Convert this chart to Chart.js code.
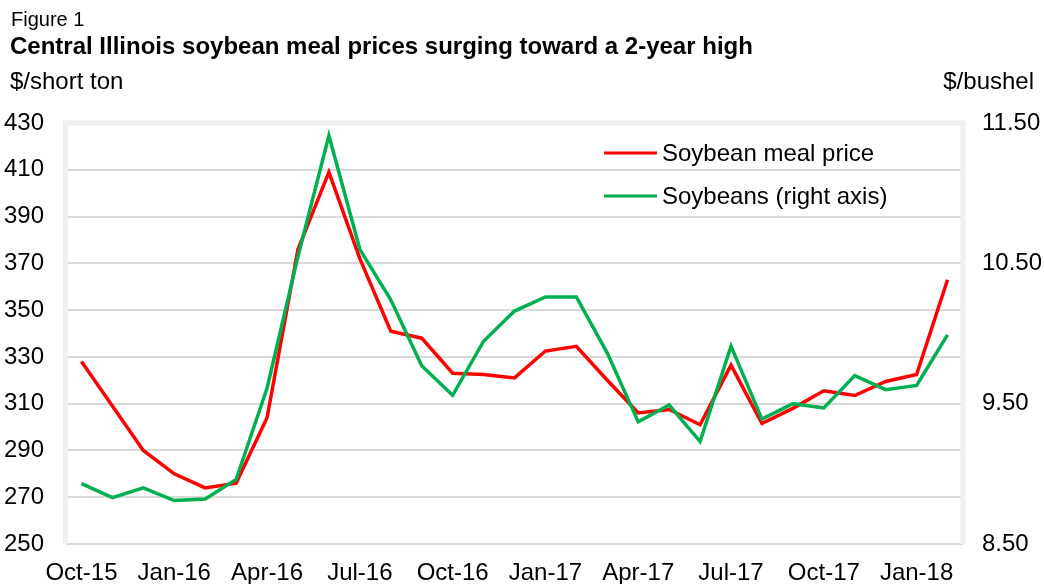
<!DOCTYPE html>
<html>
<head>
<meta charset="utf-8">
<script src="https://cdn.jsdelivr.net/npm/chart.js@4.4.0/dist/chart.umd.min.js"></script>
<style>
  html, body { margin: 0; padding: 0; background: #fff; }
  #wrap { position: relative; width: 1044px; height: 584px; }
</style>
</head>
<body>
<div id="wrap"><canvas id="chart" width="1044" height="584"></canvas></div>
<script>
// monthly, Oct-15 .. Feb-18
var months = ["Oct-15", "Nov-15", "Dec-15", "Jan-16", "Feb-16", "Mar-16", "Apr-16", "May-16", "Jun-16",
  "Jul-16", "Aug-16", "Sep-16", "Oct-16", "Nov-16", "Dec-16", "Jan-17", "Feb-17", "Mar-17", "Apr-17",
  "May-17", "Jun-17", "Jul-17", "Aug-17", "Sep-17", "Oct-17", "Nov-17", "Dec-17", "Jan-18", "Feb-18"];

// $/short ton
var mealPrice = [328, 309, 290, 280, 274, 276, 304, 376, 409, 372, 341, 338, 323, 322.5, 321, 332.5,
  334.5, 320, 306, 307.5, 301, 326.5, 301.5, 308, 315.5, 313.5, 319.5, 322.5, 363];

// $/bushel (right axis)
var soybeans = [8.93, 8.83, 8.90, 8.81, 8.82, 8.96, 9.61, 10.55, 11.41, 10.60, 10.24, 9.77, 9.56, 9.945,
  10.16, 10.26, 10.26, 9.86, 9.37, 9.49, 9.23, 9.91, 9.39, 9.50, 9.47, 9.70, 9.60, 9.63, 9.99];

var seriesNames = ["Soybean meal price", "Soybeans (right axis)"];
var seriesColors = ["#ff0000", "#00b050"];

var FONT = "'Liberation Sans', Arial, sans-serif";

// header text + light frame round the plot + in-plot legend
var decor = {
  id: "decor",
  beforeDatasetsDraw: function (chart) {
    var a = chart.chartArea, ctx = chart.ctx;
    ctx.save();
    ctx.strokeStyle = "#f0f0f0";
    ctx.lineWidth = 5;
    ctx.beginPath();
    ctx.moveTo(a.left - 0.5, a.bottom);
    ctx.lineTo(a.left - 0.5, a.top);
    ctx.lineTo(a.right, a.top);
    ctx.lineTo(a.right, a.bottom);
    ctx.stroke();
    ctx.restore();
  },
  afterDraw: function (chart) {
    var ctx = chart.ctx;
    ctx.save();
    ctx.fillStyle = "#000";
    ctx.textBaseline = "alphabetic";
    ctx.textAlign = "left";
    ctx.font = "20px " + FONT;
    ctx.fillText("Figure 1", 11, 26);
    ctx.font = "bold 24px " + FONT;
    ctx.fillText("Central Illinois soybean meal prices surging toward a 2-year high", 10, 54);
    ctx.font = "24px " + FONT;
    ctx.fillText("$/short ton", 10, 89);
    ctx.textAlign = "right";
    ctx.fillText("$/bushel", 1034, 89);

    // legend
    ctx.textAlign = "left";
    ctx.textBaseline = "middle";
    var ly = [153, 196];
    for (var i = 0; i < seriesNames.length; i++) {
      ctx.strokeStyle = seriesColors[i];
      ctx.lineWidth = 3;
      ctx.beginPath();
      ctx.moveTo(604, ly[i]);
      ctx.lineTo(657, ly[i]);
      ctx.stroke();
      ctx.fillText(seriesNames[i], 662, ly[i] + 1);
    }
    ctx.restore();
  }
};

var ctx = document.getElementById("chart").getContext("2d");
new Chart(ctx, {
  type: "line",
  data: {
    labels: months,
    datasets: [
      {
        label: seriesNames[0],
        data: mealPrice,
        yAxisID: "y",
        borderColor: seriesColors[0],
        borderWidth: 3.5,
        pointRadius: 0,
        tension: 0,
        fill: false,
        order: 2
      },
      {
        label: seriesNames[1],
        data: soybeans,
        yAxisID: "y2",
        borderColor: seriesColors[1],
        borderWidth: 3.5,
        pointRadius: 0,
        tension: 0,
        fill: false,
        order: 1
      }
    ]
  },
  options: {
    responsive: false,
    animation: false,
    layout: { padding: { top: 123, left: 0, right: 0, bottom: 0 } },
    plugins: {
      legend: { display: false },
      tooltip: { enabled: false }
    },
    scales: {
      x: {
        type: "category",
        offset: true,
        grid: { display: false },
        border: { display: false },
        ticks: {
          autoSkip: false,
          maxRotation: 0,
          padding: 7,
          color: "#000",
          font: { family: FONT, size: 24 },
          callback: function (v, i) { return i % 3 === 0 ? months[i] : ""; }
        },
        afterFit: function (s) { s.height = 40; }
      },
      y: {
        position: "left",
        min: 250,
        max: 430,
        ticks: {
          stepSize: 20,
          padding: 22,
          color: "#000",
          font: { family: FONT, size: 24 }
        },
        grid: {
          drawTicks: false,
          lineWidth: 2,
          color: function (c) { return c.tick && c.tick.value === 430 ? "rgba(0,0,0,0)" : "#d9d9d9"; }
        },
        border: { display: false },
        afterFit: function (s) { s.width = 66; }
      },
      y2: {
        position: "right",
        min: 8.5,
        max: 11.5,
        ticks: {
          stepSize: 1,
          padding: 19,
          color: "#000",
          font: { family: FONT, size: 24 },
          callback: function (v) { return Number(v).toFixed(2); }
        },
        grid: { display: false, drawTicks: false },
        border: { display: false },
        afterFit: function (s) { s.width = 81; }
      }
    }
  },
  plugins: [decor]
});
</script>
</body>
</html>
